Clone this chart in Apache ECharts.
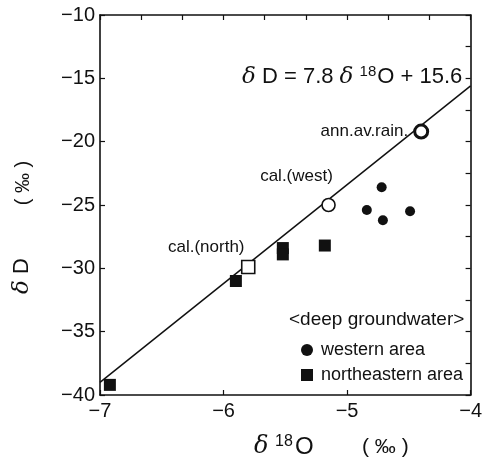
<!DOCTYPE html>
<html>
<head>
<meta charset="utf-8">
<script src="https://cdn.jsdelivr.net/npm/echarts@6/dist/echarts.min.js"></script>
<style>
  html, body { margin: 0; padding: 0; background: #fff; }
  #chart { width: 485px; height: 461px; }
</style>
</head>
<body>
<div id="chart"></div>
<script>
// regression line dD = 7.8 d18O + 15.6 (end points)
const lineX = [-7, -4]
const lineY = [-39.0, -15.6]
// deep groundwater, western area
const westX = [-4.72, -4.84, -4.71, -4.49]
const westY = [-23.6, -25.4, -26.2, -25.5]
// deep groundwater, northeastern area
const neX = [-5.52, -5.52, -5.18, -5.9, -6.92]
const neY = [-28.4, -28.9, -28.2, -31.0, -39.2]
// rain / calculated points
const circNames = ['ann.av.rain.', 'cal.(west)']
const circX = [-4.4, -5.15]
const circY = [-19.2, -25.0]
const sqNames = ['cal.(north)']
const sqX = [-5.8]
const sqY = [-29.9]

const legendNames = ['western area', 'northeastern area']
const FONT = '"Liberation Sans", Arial, sans-serif'
const INK = '#111'

const pairs = (xs, ys) => xs.map((x, i) => [x, ys[i]])
const minus = v => String(v).replace('-', '\u2212')

const chart = echarts.init(document.getElementById('chart'), null, { renderer: 'canvas' })

const axisBase = {
  axisLine: { show: true, onZero: false, lineStyle: { color: INK, width: 1.6 } },
  splitLine: { show: false },
  axisTick: { show: true, inside: true, length: 5, lineStyle: { color: INK, width: 1.2 } }
}

// label placement for the open markers
const circLabel = [
  { position: 'left', distance: 5 },
  { position: 'inside', offset: [-32, -29] }
]

chart.setOption({
  animation: false,
  grid: { left: 100, right: 10, top: 15, bottom: 66 },
  xAxis: [
    Object.assign({}, axisBase, {
      type: 'value', min: -7, max: -4, interval: 1,
      axisLabel: { color: INK, fontSize: 20, fontFamily: FONT, margin: 6, formatter: minus }
    }),
    Object.assign({}, axisBase, {
      type: 'value', position: 'top', min: -7, max: -4, interval: 1,
      axisLabel: { show: false },
      minorTick: { show: true, splitNumber: 3, length: 5, lineStyle: { color: INK, width: 1.2 } }
    })
  ],
  yAxis: [
    Object.assign({}, axisBase, {
      type: 'value', min: -40, max: -10, interval: 5,
      axisLabel: { color: INK, fontSize: 20, fontFamily: FONT, margin: 5, formatter: minus }
    }),
    Object.assign({}, axisBase, {
      type: 'value', position: 'right', min: -40, max: -10, interval: 2.5,
      axisLabel: { show: false }
    })
  ],
  legend: {
    data: [
      { name: legendNames[0], icon: 'circle', itemStyle: { color: INK } },
      { name: legendNames[1], icon: 'rect', itemStyle: { color: INK } }
    ],
    orient: 'vertical',
    left: 296, top: 336,
    itemWidth: 12, itemHeight: 12, itemGap: 7,
    textStyle: { color: INK, fontSize: 18, fontFamily: FONT, padding: [0, 0, 0, 3] }
  },
  series: [
    {
      type: 'line', data: pairs(lineX, lineY), symbol: 'none', silent: true,
      lineStyle: { color: INK, width: 1.5 }, z: 1
    },
    {
      name: legendNames[0], type: 'scatter', data: pairs(westX, westY),
      symbol: 'circle', symbolSize: 10, itemStyle: { color: INK, opacity: 1 }, z: 3
    },
    {
      name: legendNames[1], type: 'scatter', data: pairs(neX, neY),
      symbol: 'rect', symbolSize: 12, itemStyle: { color: INK, opacity: 1 }, z: 3
    },
    {
      type: 'scatter', z: 4,
      data: circX.map((x, i) => ({
        value: [x, circY[i]], name: circNames[i],
        itemStyle: { borderWidth: i === 0 ? 3 : 1.6 },
        label: Object.assign({ show: true }, circLabel[i])
      })),
      symbol: 'circle', symbolSize: 13,
      itemStyle: { color: '#fff', borderColor: INK, opacity: 1 },
      label: { formatter: '{b}', color: INK, fontSize: 17, fontFamily: FONT }
    },
    {
      type: 'scatter', z: 4,
      data: sqX.map((x, i) => ({ value: [x, sqY[i]], name: sqNames[i] })),
      symbol: 'rect', symbolSize: 13,
      itemStyle: { color: '#fff', borderColor: INK, borderWidth: 1.6, opacity: 1 },
      label: {
        show: true, formatter: '{b}', position: 'inside', offset: [-42, -20],
        color: INK, fontSize: 17, fontFamily: FONT
      }
    }
  ],
  graphic: [
    {
      type: 'text', x: 242, y: 77,
      style: {
        text: '{d|δ} D = 7.8 {d|δ} {s|18}O + 15.6',
        fill: INK, font: '22px ' + FONT, verticalAlign: 'middle',
        rich: {
          d: { fontFamily: '"DejaVu Serif", serif', fontStyle: 'italic', fontSize: 23, fill: INK },
          s: { fontSize: 15, verticalAlign: 'top', padding: [0, 1, 10, 0], fill: INK }
        }
      }
    },
    {
      type: 'text', left: 289, top: 310,
      style: { text: '<deep groundwater>', fill: INK, font: '19px ' + FONT }
    },
    {
      type: 'text', x: 254, y: 447,
      style: {
        text: '{d|δ} {s|18}O', fill: INK, font: '24px ' + FONT,
        verticalAlign: 'middle',
        rich: {
          d: { fontFamily: '"DejaVu Serif", serif', fontStyle: 'italic', fontSize: 24, fill: INK },
          s: { fontSize: 16, verticalAlign: 'top', padding: [0, 2, 10, 0], fill: INK }
        }
      }
    },
    {
      type: 'text', x: 362, y: 447,
      style: { text: '( ‰ )', fill: INK, font: '21px ' + FONT, verticalAlign: 'middle' }
    },
    {
      type: 'text', x: 22, y: 276, rotation: Math.PI / 2,
      style: {
        text: '{d|δ} D', fill: INK, font: '22px ' + FONT, align: 'center', verticalAlign: 'middle',
        rich: { d: { fontFamily: '"DejaVu Serif", serif', fontStyle: 'italic', fontSize: 23, fill: INK } }
      }
    },
    {
      type: 'text', x: 23, y: 183, rotation: Math.PI / 2,
      style: { text: '( ‰ )', fill: INK, font: '20px ' + FONT, align: 'center', verticalAlign: 'middle' }
    }
  ]
})
</script>
</body>
</html>
